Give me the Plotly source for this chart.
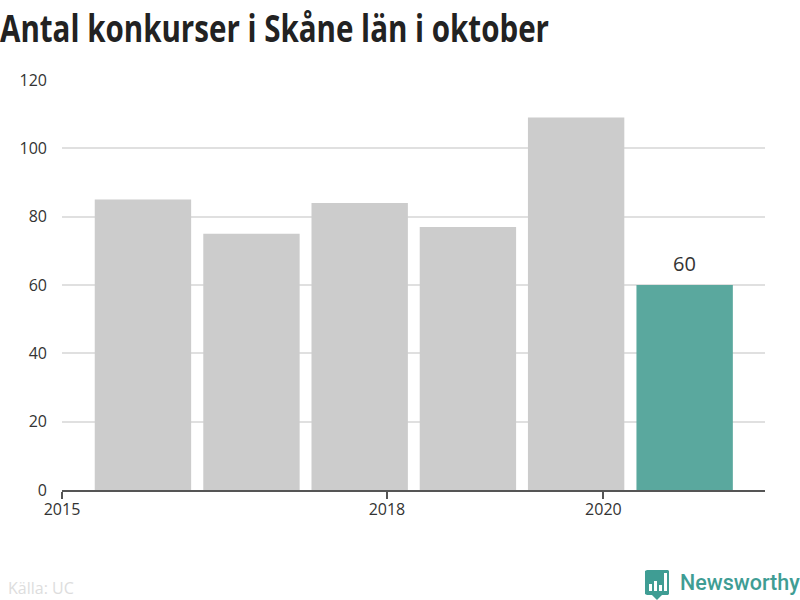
import plotly.graph_objects as go

dates = ["2015-10-01", "2016-10-01", "2017-10-01", "2018-10-01", "2019-10-01", "2020-10-01"]
values = [85, 75, 84, 77, 109, 60]
colors = ["#cccccc"] * 5 + ["#5aa89e"]
xticks = ["2015-01-01", "2018-01-01", "2020-01-01"]
xticklabels = ["2015", "2018", "2020"]
yticks = [0, 20, 40, 60, 80, 100, 120]

W, H = 800, 600
L, R, T, B = 62, 35, 80, 110
BAR_MS = 0.89 * 365.25 * 86400000


def px(x):
    return (x - L) / (W - L - R)


def py(y):
    return (H - B - y) / (H - T - B)


def path(points):
    return "M " + " L ".join(f"{px(x):.5f},{py(y):.5f}" for x, y in points) + " Z"


fig = go.Figure(go.Bar(
    x=dates, y=values, width=BAR_MS,
    marker=dict(color=colors, line_width=0),
    hoverinfo="skip",
))

TEAL = "#3f9d94"
shapes = [dict(type="path", xref="paper", yref="paper", line_width=0, fillcolor=TEAL,
               path=path([(647, 570), (668, 570), (669, 571), (669, 594), (668, 595), (662, 595),
                          (657, 600), (652, 595), (647, 595), (645, 594), (645, 571)]))]
for x0, x1, y0 in [(649, 652, 584), (654, 657, 581), (659, 662, 585), (664, 667, 573)]:
    shapes.append(dict(type="path", xref="paper", yref="paper", line_width=0, fillcolor="white",
                       path=path([(x0, y0), (x1, y0), (x1, 591), (x0, 591)])))

fig.update_layout(
    width=W, height=H,
    margin=dict(l=L, r=R, t=T, b=B, pad=0),
    paper_bgcolor="white", plot_bgcolor="white",
    showlegend=False,
    shapes=shapes,
    xaxis=dict(type="date", range=["2015-01-01", "2021-06-29"],
               tickmode="array", tickvals=xticks, ticktext=xticklabels,
               ticks="outside", ticklen=7, tickwidth=2, tickcolor="#555555",
               ticklabelstandoff=-3,
               showgrid=False, showline=True, linecolor="#555555", linewidth=2,
               zeroline=False,
               tickfont=dict(family="Open Sans", size=16, color="#333333")),
    yaxis=dict(range=[0, 120], tickmode="array", tickvals=yticks,
               ticks="", ticklabelstandoff=14,
               showgrid=True, gridcolor="#e0e0e0", gridwidth=2,
               showline=False, zeroline=False,
               tickfont=dict(family="Open Sans", size=16, color="#333333")),
    annotations=[
        dict(text="Antal konkurser i Skåne län i oktober", xref="paper", yref="paper",
             x=px(0), y=py(27), xanchor="left", yanchor="middle", showarrow=False,
             font=dict(family="Open Sans", size=38, color="#222222", weight=700)),
        dict(text=str(values[-1]), xref="x", yref="y", x=dates[-1], y=values[-1],
             xanchor="center", yanchor="bottom", yshift=6, showarrow=False,
             font=dict(family="Open Sans", size=20, color="#333333")),
        dict(text="Källa: UC", xref="paper", yref="paper",
             x=px(6), y=py(588), xanchor="left", yanchor="middle", showarrow=False,
             font=dict(family="Open Sans", size=16, color="#dddddd")),
        dict(text="Newsworthy", xref="paper", yref="paper",
             x=px(802), y=py(582), xanchor="right", yanchor="middle", showarrow=False,
             font=dict(family="Roboto", size=21.5, color=TEAL, weight=500)),
    ],
)

post = """
document.documentElement.style.margin = '0';
document.body.style.margin = '0';
function squeezeTitle() {
  document.querySelectorAll('.annotation-text').forEach(function (t) {
    if (t.textContent.indexOf('Antal') === 0) {
      t.setAttribute('textLength', '549');
      t.setAttribute('lengthAdjust', 'spacingAndGlyphs');
      t.setAttribute('x', '0');
      t.setAttribute('text-anchor', 'start');
    }
  });
}
squeezeTitle();
setTimeout(squeezeTitle, 50);
setTimeout(squeezeTitle, 300);
"""
fig.write_html("out.html", post_script=post, config={"displayModeBar": False})
